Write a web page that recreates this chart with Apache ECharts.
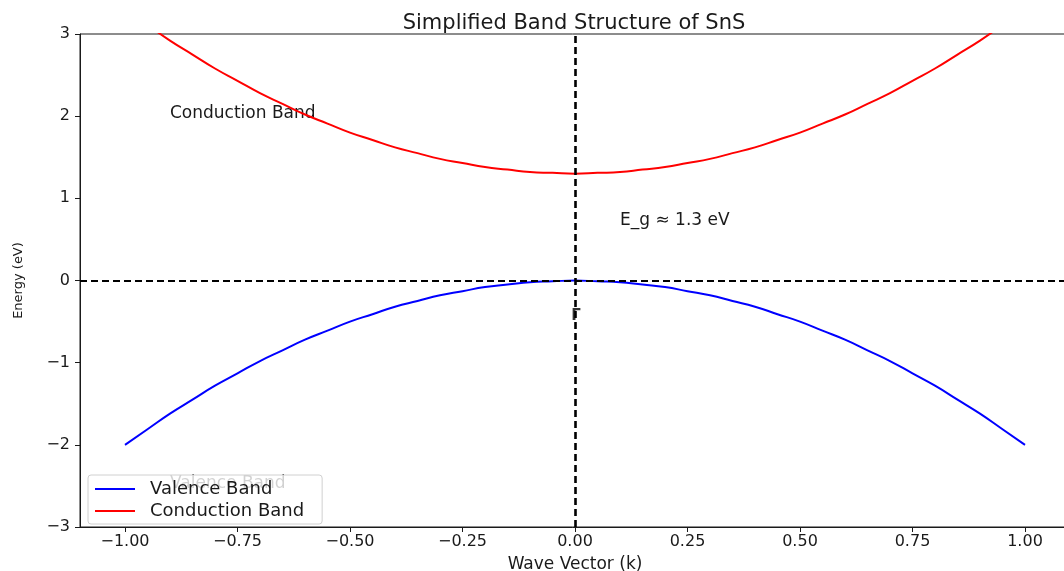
<!DOCTYPE html>
<html>
<head>
<meta charset="utf-8">
<script src="https://cdn.jsdelivr.net/npm/echarts@6/dist/echarts.min.js"></script>
<style>
    html, body { margin: 0; padding: 0; background: #fff; overflow: hidden; }
    #chart { width: 1064px; height: 571px; }
</style>
</head>
<body>
<div id="chart"></div>
<script>
// Wave vector samples (k)
const kValues = [-1.00, -0.95, -0.90, -0.85, -0.80, -0.75, -0.70, -0.65, -0.60, -0.55, -0.50,
    -0.45, -0.40, -0.35, -0.30, -0.25, -0.20, -0.15, -0.10, -0.05, 0.00,
    0.05, 0.10, 0.15, 0.20, 0.25, 0.30, 0.35, 0.40, 0.45, 0.50,
    0.55, 0.60, 0.65, 0.70, 0.75, 0.80, 0.85, 0.90, 0.95, 1.00];

// Energies (eV)
const valenceBand = [-2.00, -1.81, -1.62, -1.45, -1.28, -1.13, -0.98, -0.85, -0.72, -0.61, -0.50,
    -0.41, -0.32, -0.25, -0.18, -0.13, -0.08, -0.05, -0.02, -0.01, 0.00,
    -0.01, -0.02, -0.05, -0.08, -0.13, -0.18, -0.25, -0.32, -0.41, -0.50,
    -0.61, -0.72, -0.85, -0.98, -1.13, -1.28, -1.45, -1.62, -1.81, -2.00];
const conductionBand = [3.30, 3.11, 2.92, 2.75, 2.58, 2.43, 2.28, 2.15, 2.02, 1.91, 1.80,
    1.71, 1.62, 1.55, 1.48, 1.43, 1.38, 1.35, 1.32, 1.31, 1.30,
    1.31, 1.32, 1.35, 1.38, 1.43, 1.48, 1.55, 1.62, 1.71, 1.80,
    1.91, 2.02, 2.15, 2.28, 2.43, 2.58, 2.75, 2.92, 3.11, 3.30];

// Tick labels
const xTicks = [-1.00, -0.75, -0.50, -0.25, 0.00, 0.25, 0.50, 0.75, 1.00];

// Annotations [k, E, text]
const notes = [
    [-0.9, 2.0, 'Conduction Band'],
    [0.1, 0.7, 'E_g \u2248 1.3 eV'],
    [-0.9, -2.5, 'Valence Band']
];

const font = 'DejaVu Sans';
const ink = '#1a1a1a';
const fmtMinus = s => s.replace('-', '\u2212');

const chart = echarts.init(document.getElementById('chart'));

const option = {
    animation: false,
    backgroundColor: '#fff',
    title: {
        text: 'Simplified Band Structure of SnS',
        left: 569,
        top: 8,
        textAlign: 'center',
        textStyle: { fontFamily: font, fontSize: 21, fontWeight: 'normal', color: ink }
    },
    grid: {
        left: 80,
        width: 990,
        top: 34,
        height: 493,
        outerBoundsMode: 'none',
        show: true,
        borderColor: ink,
        borderWidth: 1
    },
    legend: {
        left: 88,
        top: 475,
        z: 10,
        orient: 'vertical',
        itemWidth: 40,
        itemHeight: 2,
        itemGap: 4,
        padding: [5, 18, 4, 7],
        backgroundColor: 'rgba(255,255,255,0.8)',
        borderColor: '#d0d0d0',
        borderWidth: 1,
        borderRadius: 3,
        textStyle: { fontFamily: font, fontSize: 18, color: ink, padding: [0, 0, 0, 10] },
        data: [
            { name: 'Valence Band', icon: 'rect' },
            { name: 'Conduction Band', icon: 'rect' }
        ]
    },
    xAxis: {
        type: 'value',
        min: -1.1,
        max: 1.1,
        name: 'Wave Vector (k)',
        nameLocation: 'middle',
        nameGap: 29,
        nameTextStyle: { fontFamily: font, fontSize: 17, color: ink },
        axisLine: { show: true, onZero: false, lineStyle: { color: ink } },
        axisTick: { show: true, length: 5, lineStyle: { color: ink }, customValues: xTicks },
        splitLine: { show: false },
        axisLabel: {
            customValues: xTicks,
            fontFamily: font,
            fontSize: 16,
            color: ink,
            margin: 7,
            formatter: v => fmtMinus(v.toFixed(2))
        }
    },
    yAxis: {
        type: 'value',
        min: -3,
        max: 3,
        interval: 1,
        name: 'Energy (eV)',
        nameLocation: 'middle',
        nameGap: 55,
        nameTextStyle: { fontFamily: font, fontSize: 13, color: ink },
        axisLine: { show: true, onZero: false, lineStyle: { color: ink } },
        axisTick: { show: true, length: 5, lineStyle: { color: ink } },
        splitLine: { show: false },
        axisLabel: {
            fontFamily: font,
            fontSize: 16,
            color: ink,
            margin: 10,
            formatter: v => fmtMinus(String(v))
        }
    },
    series: [
        {
            name: 'Annotations',
            type: 'scatter',
            symbolSize: 0,
            silent: true,
            z: 1,
            data: notes.map(n => ({
                value: [n[0], n[1]],
                label: {
                    show: true,
                    formatter: n[2],
                    position: 'inside',
                    align: 'left',
                    verticalAlign: 'bottom',
                    offset: [0, 6],
                    fontFamily: font,
                    fontSize: 17,
                    color: ink,
                    opacity: 1
                }
            }))
        },
        {
            name: 'Gamma',
            type: 'scatter',
            symbolSize: 0,
            silent: true,
            data: [{
                value: [0, -0.5],
                label: {
                    show: true,
                    formatter: '\u0393',
                    position: 'inside',
                    align: 'center',
                    verticalAlign: 'bottom',
                    offset: [1, 2],
                    fontFamily: font,
                    fontSize: 15,
                    fontWeight: 'bold',
                    color: '#000'
                }
            }]
        },
        {
            name: 'Valence Band',
            type: 'line',
            symbol: 'none',
            smooth: true,
            z: 3,
            lineStyle: { color: '#0000ff', width: 2 },
            itemStyle: { color: '#0000ff' },
            data: kValues.map((k, i) => [k, valenceBand[i]]),
            markLine: {
                silent: true,
                symbol: 'none',
                label: { show: false },
                data: [
                    { yAxis: 0, lineStyle: { color: '#000', type: [7, 4], width: 2 } },
                    { xAxis: 0, lineStyle: { color: '#000', type: [7, 4], width: 2.6 } }
                ]
            }
        },
        {
            name: 'Conduction Band',
            type: 'line',
            symbol: 'none',
            smooth: true,
            z: 3,
            clip: true,
            lineStyle: { color: '#ff0000', width: 2 },
            itemStyle: { color: '#ff0000' },
            data: kValues.map((k, i) => [k, conductionBand[i]])
        }
    ]
};

chart.setOption(option);
</script>
</body>
</html>
